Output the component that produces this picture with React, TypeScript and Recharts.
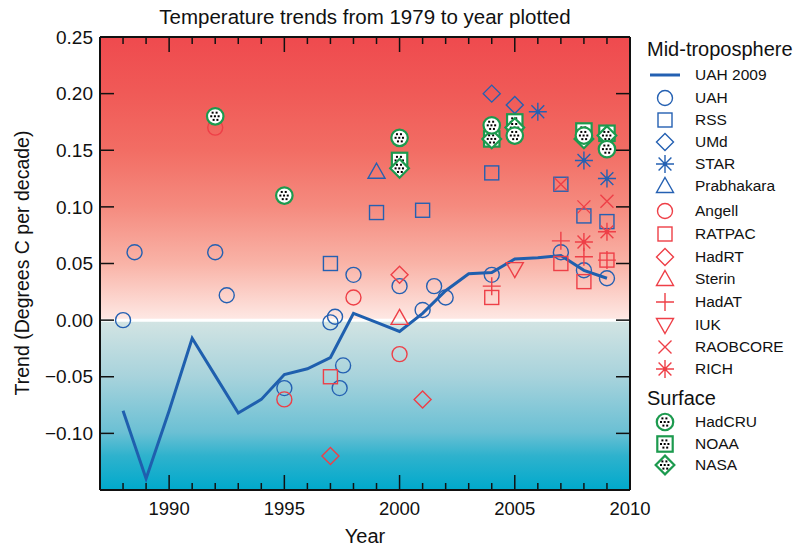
import React from 'react';
import {
  ComposedChart, Line, Scatter, XAxis, YAxis, ReferenceArea, ReferenceLine,
} from 'recharts';

const FONT = '"Liberation Sans", Arial, Helvetica, sans-serif';
const BLUE = '#2460b2';
const RED = '#ee3f47';
const GREEN = '#1c9a4e';

// UAH 2009 trend line, one value per end year
const lineYears = [1988, 1989, 1990, 1991, 1992, 1993, 1994, 1995, 1996, 1997, 1998, 1999, 2000, 2001, 2002, 2003, 2004, 2005, 2006, 2007, 2008, 2009];
const lineTrend = [-0.08, -0.14, -0.08, -0.016, -0.049, -0.082, -0.07, -0.048, -0.043, -0.033, 0.006, -0.002, -0.01, 0.006, 0.026, 0.041, 0.042, 0.054, 0.055, 0.057, 0.044, 0.037];

// scatter series: [end year, trend]
const uah = [[1988, 0.0], [1988.5, 0.06], [1992, 0.06], [1992.5, 0.022], [1995, -0.06], [1997, -0.002], [1997.2, 0.003], [1997.4, -0.06], [1997.55, -0.04], [1998, 0.04], [2000, 0.03], [2001, 0.009], [2001.5, 0.03], [2002, 0.02], [2004, 0.04], [2007, 0.06], [2008, 0.044], [2009, 0.037]];
const rss = [[1997, 0.05], [1999, 0.095], [2001, 0.097], [2004, 0.13], [2007, 0.12], [2008, 0.092], [2009, 0.087]];
const umd = [[2004, 0.2], [2005, 0.19]];
const star = [[2006, 0.184], [2008, 0.141], [2009, 0.125]];
const prabhakara = [[1999, 0.131]];
const angell = [[1992, 0.17], [1995, -0.07], [1998, 0.02], [2000, -0.03]];
const ratpac = [[1997, -0.05], [2004, 0.02], [2007, 0.05], [2008, 0.034], [2009, 0.053]];
const hadrt = [[1997, -0.12], [2000, 0.04], [2001, -0.07]];
const sterin = [[2000, 0.002]];
const hadat = [[2004, 0.03], [2007, 0.07], [2008, 0.056], [2009, 0.053]];
const iuk = [[2005, 0.045]];
const raobcore = [[2007, 0.12], [2008, 0.1], [2009, 0.105]];
const rich = [[2008, 0.069], [2009, 0.078]];
const hadcru = [[1992, 0.18], [1995, 0.11], [2000, 0.161], [2004, 0.172], [2005, 0.163], [2008, 0.163], [2009, 0.151]];
const noaa = [[2000, 0.141], [2004, 0.16], [2005, 0.175], [2008, 0.167], [2009, 0.165]];
const nasa = [[2000, 0.134], [2004, 0.16], [2005, 0.17], [2008, 0.16], [2009, 0.163]];

const xTicks = [1988, 1989, 1990, 1991, 1992, 1993, 1994, 1995, 1996, 1997, 1998, 1999, 2000, 2001, 2002, 2003, 2004, 2005, 2006, 2007, 2008, 2009, 2010];
const yTicks = [-0.1, -0.05, 0, 0.05, 0.1, 0.15, 0.2, 0.25];

const toPts = (arr: number[][]) => arr.map(([x, y]) => ({ x, y }));
const lineData = lineYears.map((x, i) => ({ x, y: lineTrend[i] }));

const fmtY = (v: number) => (v < 0 ? '\u2212' + Math.abs(v).toFixed(2) : v.toFixed(2));

// marker drawing
type Kind = 'circle' | 'square' | 'diamond' | 'star' | 'tri' | 'tridown' | 'plus' | 'cross';

const Dots = () => (
  <g fill="#000">
    {[[-2.6, -3.6], [1.4, -3.6], [-4, 0], [-0.3, 0], [3.4, 0], [-1.6, 3.6], [2.2, 3.6]].map(([dx, dy], i) => (
      <rect key={i} x={dx - 1} y={dy - 1} width={2} height={2} />
    ))}
  </g>
);

const marker = (kind: Kind, cx: number, cy: number, c: string, surface = false) => {
  const sw = surface ? 2.2 : 1.4;
  const fill = surface ? '#fff' : 'none';
  const s = surface ? 1.1 : 1;
  let body: React.ReactNode = null;
  if (kind === 'circle') body = <circle cx={0} cy={0} r={7.5 * s} fill={fill} stroke={c} strokeWidth={sw} />;
  if (kind === 'square') body = <rect x={-7 * s} y={-7 * s} width={14 * s} height={14 * s} fill={fill} stroke={c} strokeWidth={sw} />;
  if (kind === 'diamond') {
    const d = 8.5 * s;
    body = <polygon points={`0,${-d} ${d},0 0,${d} ${-d},0`} fill={fill} stroke={c} strokeWidth={sw} />;
  }
  if (kind === 'tri') body = <polygon points="0,-8.5 8.5,6.5 -8.5,6.5" fill="none" stroke={c} strokeWidth={sw} />;
  if (kind === 'tridown') body = <polygon points="0,8.5 8.5,-6.5 -8.5,-6.5" fill="none" stroke={c} strokeWidth={sw} />;
  if (kind === 'plus') body = <path d="M-9,0H9M0,-9V9" stroke={c} strokeWidth={sw} />;
  if (kind === 'cross') body = <path d="M-6.5,-6.5L6.5,6.5M6.5,-6.5L-6.5,6.5" stroke={c} strokeWidth={sw} />;
  if (kind === 'star')
    body = (
      <g>
        <path d="M-9,0H9M0,-9V9M-6.4,-6.4L6.4,6.4M6.4,-6.4L-6.4,6.4" stroke={c} strokeWidth={sw} />
        <circle r={2} fill={c} />
      </g>
    );
  return (
    <g transform={`translate(${cx},${cy})`}>
      {body}
      {surface && <Dots />}
    </g>
  );
};

const shapeOf = (kind: Kind, c: string, surface = false) => (p: any) =>
  p.cx == null ? <g /> : marker(kind, p.cx, p.cy, c, surface);

const BottomTick = (p: any) => {
  const v = p.payload.value;
  const major = v % 5 === 0;
  return (
    <g>
      <line x1={p.x} x2={p.x} y1={p.y} y2={p.y - (major ? 15 : 7)} stroke="#111" strokeWidth={1.5} />
      {major && (
        <text x={p.x} y={p.y + 25} textAnchor="middle" fontSize={18.5} fontFamily={FONT} fill="#111">
          {v}
        </text>
      )}
    </g>
  );
};

const TopTick = (p: any) => {
  const major = p.payload.value % 5 === 0;
  return <line x1={p.x} x2={p.x} y1={p.y} y2={p.y + (major ? 15 : 7)} stroke="#111" strokeWidth={1.5} />;
};

const LeftTick = (p: any) => (
  <g>
    <line x1={p.x} x2={p.x + 14} y1={p.y} y2={p.y} stroke="#111" strokeWidth={1.5} />
    <text x={p.x - 7} y={p.y} dy="0.35em" textAnchor="end" fontSize={19} fontFamily={FONT} fill="#111">
      {fmtY(p.payload.value)}
    </text>
  </g>
);

const RightTick = (p: any) => <line x1={p.x} x2={p.x - 14} y1={p.y} y2={p.y} stroke="#111" strokeWidth={1.5} />;

type Entry = { label: string; kind: Kind | 'line'; color: string; surface?: boolean; y: number };
const legendEntries: Entry[] = [
  { label: 'UAH 2009', kind: 'line', color: BLUE, y: 75 },
  { label: 'UAH', kind: 'circle', color: BLUE, y: 98 },
  { label: 'RSS', kind: 'square', color: BLUE, y: 120 },
  { label: 'UMd', kind: 'diamond', color: BLUE, y: 142 },
  { label: 'STAR', kind: 'star', color: BLUE, y: 164 },
  { label: 'Prabhakara', kind: 'tri', color: BLUE, y: 186 },
  { label: 'Angell', kind: 'circle', color: RED, y: 211 },
  { label: 'RATPAC', kind: 'square', color: RED, y: 234 },
  { label: 'HadRT', kind: 'diamond', color: RED, y: 257 },
  { label: 'Sterin', kind: 'tri', color: RED, y: 279 },
  { label: 'HadAT', kind: 'plus', color: RED, y: 302 },
  { label: 'IUK', kind: 'tridown', color: RED, y: 325 },
  { label: 'RAOBCORE', kind: 'cross', color: RED, y: 347 },
  { label: 'RICH', kind: 'star', color: RED, y: 369 },
  { label: 'HadCRU', kind: 'circle', color: GREEN, surface: true, y: 422 },
  { label: 'NOAA', kind: 'square', color: GREEN, surface: true, y: 444 },
  { label: 'NASA', kind: 'diamond', color: GREEN, surface: true, y: 465 },
];

const Overlay = () => (
  <svg width={812} height={546} style={{ position: 'absolute', left: 0, top: 0, pointerEvents: 'none' }}>
    <text x={365} y={17} dy="0.35em" textAnchor="middle" fontSize={20.5} fontFamily={FONT} fill="#111">
      Temperature trends from 1979 to year plotted
    </text>
    <text x={365} y={536} dy="0.35em" textAnchor="middle" fontSize={20} fontFamily={FONT} fill="#111">
      Year
    </text>
    <text transform="translate(22,263) rotate(-90)" dy="0.35em" textAnchor="middle" fontSize={19.5} fontFamily={FONT} fill="#111">
      Trend (Degrees C per decade)
    </text>
    <text x={647} y={49} dy="0.35em" fontSize={20} fontFamily={FONT} fill="#111">Mid-troposphere</text>
    <text x={647} y={398} dy="0.35em" fontSize={20} fontFamily={FONT} fill="#111">Surface</text>
    {legendEntries.map((e) => (
      <g key={e.label}>
        {e.kind === 'line' ? (
          <line x1={650} x2={680} y1={e.y} y2={e.y} stroke={e.color} strokeWidth={3} />
        ) : (
          marker(e.kind, 665, e.y, e.color, e.surface)
        )}
        <text x={695} y={e.y} dy="0.35em" fontSize={15.5} fontFamily={FONT} fill="#111">
          {e.label}
        </text>
      </g>
    ))}
  </svg>
);

const series: { data: number[][]; kind: Kind; color: string; surface?: boolean }[] = [
  { data: uah, kind: 'circle', color: BLUE },
  { data: rss, kind: 'square', color: BLUE },
  { data: umd, kind: 'diamond', color: BLUE },
  { data: star, kind: 'star', color: BLUE },
  { data: prabhakara, kind: 'tri', color: BLUE },
  { data: angell, kind: 'circle', color: RED },
  { data: ratpac, kind: 'square', color: RED },
  { data: hadrt, kind: 'diamond', color: RED },
  { data: sterin, kind: 'tri', color: RED },
  { data: hadat, kind: 'plus', color: RED },
  { data: iuk, kind: 'tridown', color: RED },
  { data: raobcore, kind: 'cross', color: RED },
  { data: rich, kind: 'star', color: RED },
  { data: noaa, kind: 'square', color: GREEN, surface: true },
  { data: nasa, kind: 'diamond', color: GREEN, surface: true },
  { data: hadcru, kind: 'circle', color: GREEN, surface: true },
];

export default function App() {
  return (
    <div style={{ position: 'absolute', left: 0, top: 0, width: 812, height: 546, background: '#fff' }}>
      <ComposedChart width={812} height={546} margin={{ top: 36, right: 181, bottom: 26, left: 40 }}>
        <defs>
          <linearGradient id="warm" x1="0" y1="0" x2="0" y2="1">
            <stop offset="0%" stopColor="#ef4a4e" />
            <stop offset="20%" stopColor="#f05a57" />
            <stop offset="40%" stopColor="#f26d64" />
            <stop offset="60%" stopColor="#f58b7f" />
            <stop offset="80%" stopColor="#f9b3a7" />
            <stop offset="100%" stopColor="#fee9e5" />
          </linearGradient>
          <linearGradient id="cool" x1="0" y1="0" x2="0" y2="1">
            <stop offset="0%" stopColor="#d3e4e3" />
            <stop offset="33%" stopColor="#a8d3dc" />
            <stop offset="66%" stopColor="#6bc0d4" />
            <stop offset="80%" stopColor="#2eb2cd" />
            <stop offset="100%" stopColor="#00a9cc" />
          </linearGradient>
        </defs>
        <XAxis dataKey="x" type="number" domain={[1987, 2010]} ticks={xTicks} allowDataOverflow
          height={30} tickSize={0} tickMargin={0} tickLine={false} interval={0}
          axisLine={{ stroke: '#111', strokeWidth: 2 }} tick={<BottomTick />} />
        <XAxis xAxisId="top" orientation="top" dataKey="x" type="number" domain={[1987, 2010]} ticks={xTicks} allowDataOverflow
          height={1} tickSize={0} tickMargin={0} tickLine={false} interval={0}
          axisLine={{ stroke: '#111', strokeWidth: 2 }} tick={<TopTick />} />
        <YAxis type="number" domain={[-0.15, 0.25]} ticks={yTicks} allowDataOverflow width={60}
          tickSize={0} tickMargin={0} tickLine={false} interval={0}
          axisLine={{ stroke: '#111', strokeWidth: 2 }} tick={<LeftTick />} />
        <YAxis yAxisId="right" orientation="right" type="number" domain={[-0.15, 0.25]} ticks={yTicks} allowDataOverflow width={1}
          tickSize={0} tickMargin={0} tickLine={false} interval={0}
          axisLine={{ stroke: '#111', strokeWidth: 2 }} tick={<RightTick />} />
        <ReferenceArea y1={0} y2={0.25} fill="url(#warm)" fillOpacity={1} stroke="none" />
        <ReferenceArea y1={-0.15} y2={0} fill="url(#cool)" fillOpacity={1} stroke="none" />
        <ReferenceLine y={0} stroke="#fff" strokeWidth={3} />
        <Line data={lineData} dataKey="y" type="linear" stroke="#1f5fae" strokeWidth={3} dot={false}
          isAnimationActive={false} />
        {series.map((s, i) => (
          <Scatter key={i} data={toPts(s.data)} dataKey="y" shape={shapeOf(s.kind, s.color, s.surface)}
            isAnimationActive={false} />
        ))}
        <Scatter xAxisId="top" yAxisId="right" data={[{ x: 2000, y: 0 }]} dataKey="y" shape={() => <g />}
          isAnimationActive={false} />
      </ComposedChart>
      <Overlay />
    </div>
  );
}
